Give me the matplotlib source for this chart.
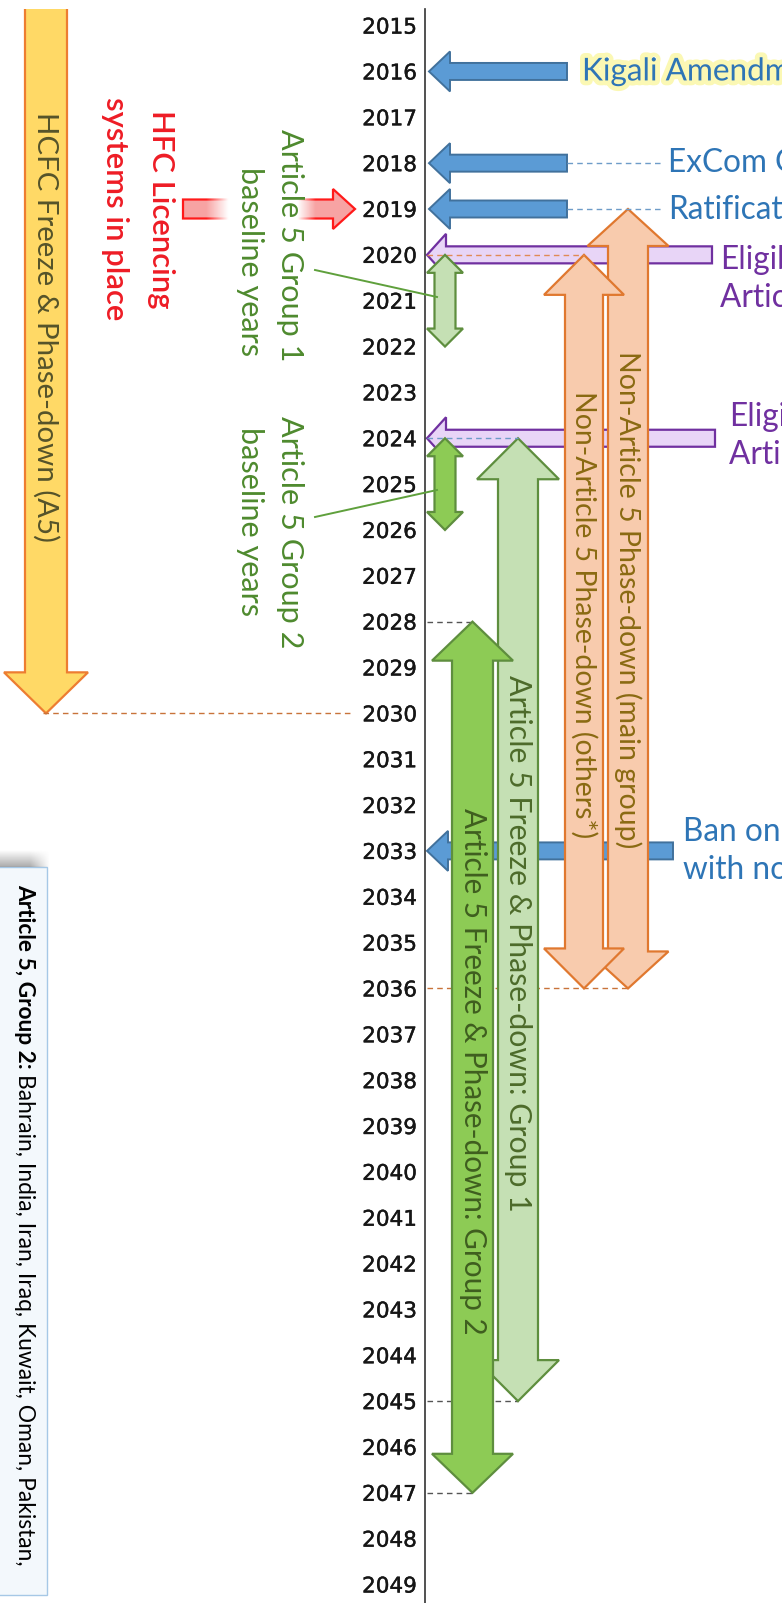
import numpy as np
import matplotlib
matplotlib.use("Agg")
from matplotlib import pyplot as plt
from matplotlib.patches import Polygon, Rectangle
import matplotlib.patheffects as pe

# ---------------- data ----------------
years = list(range(2015, 2050))

milestone_years = [2016, 2018, 2019, 2033]
milestone_labels = ["Kigali Amendment", "ExCom Guidelines", "Ratification",
                    "Ban on trade\nwith non-Parties"]

eligibility_years = [2020, 2024]
eligibility_labels = ["Eligibility\nArticle 5", "Eligibility\nArticle 5"]

baseline_start = [2020, 2024]
baseline_end = [2022, 2026]
baseline_labels = [["Article 5 Group 1", "baseline years"],
                   ["Article 5 Group 2", "baseline years"]]

phase_labels = ["Non-Article 5 Phase-down (main group)",
                "Non-Article 5 Phase-down (others*)",
                "Article 5 Freeze & Phase-down: Group 1",
                "Article 5 Freeze & Phase-down: Group 2"]
phase_start = [2019, 2020, 2024, 2028]
phase_end = [2036, 2036, 2045, 2047]

hcfc_label = "HCFC Freeze & Phase-down (A5)"
hcfc_end = 2030
licence_label = ["HFC Licencing", "systems in place"]
licence_year = 2019
group2_note = ["Article 5, Group 2:", "Bahrain, India, Iran, Iraq, Kuwait, Oman, Pakistan,"]

# ---------------- layout (pixels on a 782x1603 canvas) ----------------
W, H = 782, 1603
PX_YEAR = 45.85
TOP = 25.6
AXIS_X = 425


def yr(px):
    return 2015 + (px - TOP) / PX_YEAR


def dy(px):
    return px / PX_YEAR


def varrow(x, top, bottom, s, h, hl, up=True, down=True, **kw):
    pts = []
    if up:
        pts += [(x, top), (x + h, top + dy(hl)), (x + s, top + dy(hl))]
    else:
        pts += [(x + s, top)]
    if down:
        pts += [(x + s, bottom - dy(hl)), (x + h, bottom - dy(hl)), (x, bottom),
                (x - h, bottom - dy(hl)), (x - s, bottom - dy(hl))]
    else:
        pts += [(x + s, bottom), (x - s, bottom)]
    if up:
        pts += [(x - s, top + dy(hl)), (x - h, top + dy(hl))]
    else:
        pts += [(x - s, top)]
    return Polygon(pts, **kw)


def harrow(x_tip, x_end, y, s, h, hl, **kw):
    # x_tip < x_end : points left, else points right
    d = 1 if x_end > x_tip else -1
    xb = x_tip + d * hl
    pts = [(x_tip, y), (xb, y - dy(h)), (xb, y - dy(s)), (x_end, y - dy(s)),
           (x_end, y + dy(s)), (xb, y + dy(s)), (xb, y + dy(h))]
    return Polygon(pts, **kw)


fig = plt.figure(figsize=(W / 100, H / 100), dpi=100)
ax = fig.add_axes([0, 0, 1, 1])
ax.set_facecolor("white")
renderer = fig.canvas.get_renderer()
FONT = ["Lato", "DejaVu Sans"]
NARROW = ["Liberation Sans Narrow", "Lato", "DejaVu Sans"]


def fit(t, length, vertical=True):
    bb = t.get_window_extent(renderer)
    cur = bb.height if vertical else bb.width
    t.set_fontsize(t.get_fontsize() * length / cur)
    return t


def extent(t):
    return t.get_window_extent(renderer).height


# year axis
ax.spines[["right", "top", "bottom"]].set_visible(False)
ax.spines["left"].set_position(("data", AXIS_X))
ax.spines["left"].set_bounds(yr(9), yr(H))
ax.spines["left"].set_color("#333333")
ax.spines["left"].set_linewidth(1.2)
ax.set_xticks([])
ax.set_yticks(years)
ax.set_yticklabels([str(y) for y in years], fontfamily="DejaVu Sans")
ax.tick_params(axis="y", length=0, pad=5.8, labelsize=15.5, labelcolor="#161616")
for lab in ax.get_yticklabels():
    lab.set_path_effects([pe.withStroke(linewidth=0.3, foreground="#161616")])

dash = dict(ls=(0, (4, 3)), lw=1.0, zorder=4)

# --- Group 2 note box on the left ---
ax.add_patch(Rectangle((-3, yr(867)), 50, dy(1595 - 867), fc="#F3F8FC",
                       ec="#A6C8E6", lw=1.0, zorder=1))
sh = np.zeros((30, 60, 4))
sh[..., :3] = 0.45
a_v = np.linspace(0, 0.6, 30)[:, None]
a_h = np.interp(np.linspace(0, 50, 60), [0, 30, 50], [1, 1, 0])[None, :]
sh[..., 3] = a_v * a_h
ax.imshow(sh, extent=(0, 50, yr(867), yr(850)), aspect="auto", zorder=1,
          interpolation="bilinear")
tb = ax.text(24.5, yr(884), group2_note[0], rotation=-90, ha="center", va="top",
             fontweight="bold", family=NARROW, color="black", fontsize=11, zorder=2)
tr = ax.text(24.5, yr(884), group2_note[1], rotation=-90, ha="center", va="top",
             family=NARROW, color="black", fontsize=11, zorder=2)
lb, lr = extent(tb), extent(tr)
k = (680 - 4) / (lb + lr)
tb.set_fontsize(11 * k)
tr.set_fontsize(11 * k)
tr.set_y(yr(884 + lb * k + 4))

# --- HCFC arrow ---
hx, hs, hh, hhl = 46, 21, 42, 41
htop = yr(9)
hpts = [(hx - hs, htop), (hx - hs, hcfc_end - dy(hhl)), (hx - hh, hcfc_end - dy(hhl)),
        (hx, hcfc_end), (hx + hh, hcfc_end - dy(hhl)), (hx + hs, hcfc_end - dy(hhl)),
        (hx + hs, htop)]
ax.add_patch(Polygon(hpts, closed=False, fc="#FFD966", ec="#ED7D31", lw=1.6, zorder=2))
t = ax.text(hx, yr(327), hcfc_label, rotation=-90, ha="center", va="center",
            family=FONT, color="#55532A", fontsize=20, zorder=3)
fit(t, 430)
ax.plot([hx - 3, 352], [hcfc_end, hcfc_end], color="#C8733A", **dash)

# --- HFC licencing arrow (fades under the green label) ---
ax.add_patch(harrow(355, 183, licence_year, 9.5, 20, 22, fc="#F7A3A3", ec="#FF1A1A",
                    lw=1.6, zorder=2))
grad = np.ones((1, 200, 4))
gx = np.linspace(200, 325, 200)
grad[0, :, 3] = np.interp(gx, [206, 228, 298, 316], [0, 1, 1, 0])
ax.imshow(grad, extent=(200, 325, yr(236), yr(180)), aspect="auto", zorder=2.5,
          interpolation="bilinear")
lt1 = ax.text(161, licence_year, licence_label[0], rotation=-90, ha="center", va="center",
              family=FONT, fontweight="semibold", color="#EE1C25", fontsize=20, zorder=3)
lt2 = ax.text(115, licence_year, licence_label[1], rotation=-90, ha="center", va="center",
              family=FONT, fontweight="semibold", color="#EE1C25", fontsize=20, zorder=3)
fit(lt2, 223)
lt1.set_fontsize(lt2.get_fontsize())

# --- baseline labels with leader lines ---
bl_y1 = [yr(245), yr(532)]
bl_y2 = [yr(262), yr(522)]
lead_from = [yr(270), yr(517)]
lead_to = [yr(297), yr(490)]
size = None
for i in range(2):
    t1 = ax.text(289.5, bl_y1[i], baseline_labels[i][0], rotation=-90, ha="center",
                 va="center", family=FONT, color="#4E8A2E", fontsize=20, zorder=3)
    if size is None:
        fit(t1, 233)
        size = t1.get_fontsize()
    t1.set_fontsize(size)
    ax.text(249.5, bl_y2[i], baseline_labels[i][1], rotation=-90, ha="center",
            va="center", family=FONT, color="#4E8A2E", fontsize=size, zorder=3)
    ax.plot([315, 437], [lead_from[i], lead_to[i]], color="#5FA03C", lw=1.4, zorder=6)

# --- milestone arrows (blue) ---
m_tip = [429, 429, 429, 427]
m_end = [567, 567, 567, 673]
m_text_x = [582, 668, 668, 683]
m_text_dy = [0, 0, 1, 0]
probe = ax.text(0, 2030, "Kigali Amend", family=FONT, fontsize=20)
fit(probe, 183, vertical=False)
lab_size = probe.get_fontsize()
probe.remove()
for i, y in enumerate(milestone_years):
    ax.add_patch(harrow(m_tip[i], m_end[i], y, 8.5, 20, 21, fc="#5B9BD5",
                        ec="#41719C", lw=1.4, zorder=2))
    t = ax.text(m_text_x[i], y + dy(m_text_dy[i]), milestone_labels[i], ha="left",
                va="center", family=FONT, color="#2E75B6", fontsize=lab_size,
                linespacing=1.3, zorder=3)
    if i == 0:
        t.set_path_effects([pe.withStroke(linewidth=7, foreground="#FBF8B4")])
    if i in (1, 2):
        ax.plot([m_end[i], m_text_x[i] - 4], [y, y], color="#6E9CC8", **dash)

# --- eligibility arrows (purple) ---
e_end = [712, 715]
e_text_x = [720, 729]
e_text_off = [24, -2]
for i, y in enumerate(eligibility_years):
    ax.add_patch(harrow(427, e_end[i], y, 8.5, 21, 19, fc="#E8D5F7", ec="#7030A0",
                        lw=1.6, zorder=2))
    ax.text(e_text_x[i], y + dy(e_text_off[i]), eligibility_labels[i], ha="left",
            va="center", family=FONT, color="#7030A0", fontsize=lab_size,
            linespacing=1.35, zorder=3)

# --- phase-down arrows ---
p_x = [628, 584, 518, 472.5]
p_s = [20, 19, 20, 20.5]
p_h = [40.5, 40, 41, 40.5]
p_hl = [37, 40, 41, 39]
p_fc = ["#F8CBAD", "#F8CBAD", "#C5E0B4", "#8DCB55"]
p_ec = ["#E0782F", "#E0782F", "#5E8E3E", "#5E8E3E"]
p_tc = ["#8A6A12", "#8A6A12", "#4D6B2A", "#3F5E1F"]
p_ty = [600, 615, 943, 1071]
p_len = [496, 445, 536, 526]
p_z = [3, 3.2, 4, 4.5]
for i in range(4):
    ax.add_patch(varrow(p_x[i], phase_start[i], phase_end[i], p_s[i], p_h[i], p_hl[i],
                        fc=p_fc[i], ec=p_ec[i], lw=1.6, zorder=p_z[i]))
    t = ax.text(p_x[i], yr(p_ty[i]), phase_labels[i], rotation=-90, ha="center",
                va="center", family=FONT, color=p_tc[i], fontsize=18, zorder=p_z[i] + 0.05)
    fit(t, p_len[i])

# --- baseline double arrows ---
b_fc = ["#C5E0B4", "#8DCB55"]
for i in range(2):
    ax.add_patch(varrow(445, baseline_start[i], baseline_end[i], 10.5, 18, 18,
                        fc=b_fc[i], ec="#5E8E3E", lw=1.6, zorder=4.6))

# --- dashed guide lines from the axis to the arrow tips ---
ax.plot([AXIS_X + 2, p_x[1]], [phase_start[1], phase_start[1]], color="#E08A55", **dash)
ax.plot([AXIS_X + 2, p_x[2]], [phase_start[2], phase_start[2]], color="#6E9CC8", **dash)
ax.plot([AXIS_X + 2, p_x[3]], [phase_start[3], phase_start[3]], color="#555555", **dash)
ax.plot([AXIS_X + 2, p_x[0]], [phase_end[0], phase_end[0]], color="#C8733A",
        ls=(0, (4, 3)), lw=1.0, zorder=2.5)
ax.plot([AXIS_X + 2, p_x[2]], [phase_end[2], phase_end[2]], color="#555555",
        ls=(0, (4, 3)), lw=1.0, zorder=2.5)
ax.plot([AXIS_X + 2, p_x[3]], [phase_end[3], phase_end[3]], color="#555555",
        ls=(0, (4, 3)), lw=1.0, zorder=2.5)

ax.set_xlim(0, W)
ax.set_ylim(yr(H), yr(0))
fig.savefig("out.png", dpi=100)
